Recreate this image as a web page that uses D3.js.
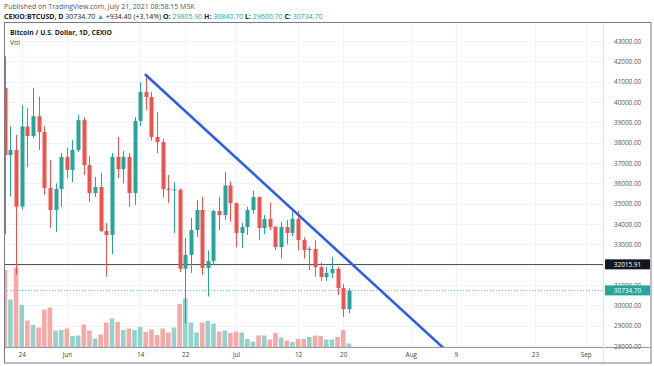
<!DOCTYPE html>
<html>
<head>
<meta charset="utf-8">
<script src="https://cdn.jsdelivr.net/npm/d3@7"></script>
<style>
  body { margin: 0; background: #fff; }
  svg { display: block; font-family: "Open Sans", "Noto Sans", sans-serif; }
</style>
</head>
<body>
<div id="chart"></div>
<script>
// Data: daily candles CEXIO:BTCUSD, May 21 – Jul 21 2021
const startDate = "2021-05-21";
const opens  = [40700,37390,37640,34850,38800,38330,39300,38520,35770,34690,35720,37300,36660,37640,39110,36900,35520,35820,33650,33460,37300,36700,37300,35520,39070,40500,40250,38280,38030,35720,35650,35680,31800,32480,33700,34690,31840,32180,34640,34440,35900,35030,33560,33850,34690,35330,33800,34250,33850,32870,33850,33560,34250,33210,32720,32770,31880,31390,31590,31790,30850,29805.9];
const highs  = [42250,38820,38380,39850,39700,40690,40260,38820,37150,36000,37490,37740,38130,39360,39250,37340,36310,36500,34050,37490,38280,37600,37490,39260,40980,41330,40500,39500,38200,36410,36060,35750,33310,34300,35180,35340,32700,34700,35340,36570,36100,35050,34050,34850,35640,35350,34440,35050,33900,34100,34200,34610,34650,33350,32880,33200,32100,31900,32390,31900,31050,30840.7];
const lows   = [33500,35350,31500,34700,36800,38230,37640,35430,33800,33600,34840,36260,36060,37540,36410,35080,35330,33600,31400,32520,36260,36000,34840,34930,38820,39610,38100,37490,35300,35030,33560,31640,29100,31600,33360,31490,30430,32000,33700,34200,34110,32850,32820,33460,34500,33210,33500,33700,32720,32300,33000,33400,32700,32300,31740,31410,31210,31200,31340,30510,29440,29600.7];
const closes = [37390,37640,34850,38800,38330,39300,38520,35770,34690,35720,37300,36660,37640,39110,36900,35520,35820,33650,33460,37300,36700,37300,35520,39070,40500,40250,38280,38030,35720,35680,35700,31800,32480,33700,34690,31840,32180,34640,34440,35900,35030,33560,33850,34690,35330,33800,34250,33850,32870,33850,33560,34250,33210,32720,32770,31880,31390,31590,31790,30850,29810,30734.7];
const volumes = [3100,1920,3200,1700,1080,900,800,1520,1600,680,700,760,460,480,920,680,360,520,1000,1160,1020,700,760,700,820,620,720,500,760,600,800,1740,1960,1000,600,1000,1060,960,640,680,580,640,600,340,240,480,480,320,580,400,280,220,340,340,420,480,460,320,320,420,700,160];

const priceTicks = [28000,29000,30000,31000,32000,33000,34000,35000,36000,37000,38000,39000,40000,41000,42000,43000];
const timeTickDates = ["2021-05-24","2021-06-01","2021-06-14","2021-06-22","2021-07-01","2021-07-12","2021-07-20","2021-08-01","2021-08-09","2021-08-23","2021-09-01"];
const timeTickLabels = ["24","Jun","14","22","Jul","12","20","Aug","9","23","Sep"];

const trendDates = ["2021-06-15","2021-08-08"];
const trendPrices = [41330,27590];

const hLinePrice = 32015.91;
const lastPrice = 30734.70;

// Layout
const W = 654, H = 366;
const pane = { left: 4, top: 22, right: 603, bottom: 347.5 };
const red = "#ef5350", green = "#26a69a";
const redVol = "#f7a9a7", greenVol = "#92d2cc";

const parse = d3.utcParse("%Y-%m-%d");
const day0 = parse(startDate);
const candles = opens.map((o, i) => ({
  date: d3.utcDay.offset(day0, i), o, h: highs[i], l: lows[i], c: closes[i], v: volumes[i]
}));

const x = d3.scaleUtc().domain([day0, parse("2021-07-21")]).range([4.8, 348.8]);
const y = d3.scaleLinear().domain([28000, 43000]).range([346, 41]);
const yVol = d3.scaleLinear().domain([0, d3.max(volumes)]).range([pane.bottom, pane.bottom - 80]);

const svg = d3.select("#chart").append("svg").attr("width", W).attr("height", H);

svg.append("defs").append("clipPath").attr("id", "paneClip")
  .append("rect").attr("x", pane.left).attr("y", pane.top)
  .attr("width", pane.right - pane.left).attr("height", pane.bottom - pane.top);

// header
svg.append("text").attr("x", 4).attr("y", 9).attr("font-size", 7).attr("fill", "#555")
  .text("Published on TradingView.com, July 21, 2021 08:58:15 MSK");
const hdr = svg.append("text").attr("x", 4).attr("y", 18.5).attr("font-size", 7).attr("fill", "#222");
hdr.append("tspan").attr("font-weight", "bold").text("CEXIO:BTCUSD, D ");
hdr.append("tspan").text("30734.70 ");
hdr.append("tspan").attr("fill", green).text("▲");
hdr.append("tspan").text(" +934.40 (+3.14%) ");
[["O:", "29805.90"], ["H:", "30840.70"], ["L:", "29600.70"], ["C:", "30734.70"]].forEach(([k, v]) => {
  hdr.append("tspan").attr("font-weight", "bold").text(k + " ");
  hdr.append("tspan").attr("fill", green).text(v + " ");
});

// grid
const grid = svg.append("g").attr("stroke", "#f0f3fa").attr("stroke-width", 1);
priceTicks.forEach(p => grid.append("line")
  .attr("x1", pane.left).attr("x2", pane.right)
  .attr("y1", Math.round(y(p)) + 0.5).attr("y2", Math.round(y(p)) + 0.5));
timeTickDates.forEach(d => grid.append("line")
  .attr("x1", Math.round(x(parse(d))) + 0.5).attr("x2", Math.round(x(parse(d))) + 0.5)
  .attr("y1", pane.top).attr("y2", pane.bottom));

const plot = svg.append("g").attr("clip-path", "url(#paneClip)");

// volume
plot.append("g").selectAll("rect").data(candles).join("rect")
  .attr("x", d => x(d.date) - 2.3).attr("width", 4.6)
  .attr("y", d => yVol(d.v)).attr("height", d => pane.bottom - yVol(d.v))
  .attr("fill", d => d.c >= d.o ? greenVol : redVol);

// horizontal level + last price line
plot.append("line").attr("x1", pane.left).attr("x2", pane.right)
  .attr("y1", Math.round(y(hLinePrice)) + 0.5).attr("y2", Math.round(y(hLinePrice)) + 0.5)
  .attr("stroke", "#555").attr("stroke-width", 1);
plot.append("line").attr("x1", pane.left).attr("x2", pane.right)
  .attr("y1", Math.round(y(lastPrice)) + 0.5).attr("y2", Math.round(y(lastPrice)) + 0.5)
  .attr("stroke", green).attr("stroke-width", 1).attr("stroke-dasharray", "1,2").attr("opacity", 0.7);

// candles
const cg = plot.append("g").selectAll("g").data(candles).join("g");
cg.append("line")
  .attr("x1", d => Math.round(x(d.date)) + 0.5).attr("x2", d => Math.round(x(d.date)) + 0.5)
  .attr("y1", d => y(d.h)).attr("y2", d => y(d.l))
  .attr("stroke", d => d.c >= d.o ? green : red).attr("stroke-width", 1);
cg.append("rect")
  .attr("x", d => Math.round(x(d.date)) + 0.5 - 2).attr("width", 4)
  .attr("y", d => y(Math.max(d.o, d.c)))
  .attr("height", d => Math.max(1, Math.abs(y(d.o) - y(d.c))))
  .attr("fill", d => d.c >= d.o ? green : red);

// trend line
plot.append("line")
  .attr("x1", x(parse(trendDates[0]))).attr("y1", y(trendPrices[0]))
  .attr("x2", x(parse(trendDates[1]))).attr("y2", y(trendPrices[1]))
  .attr("stroke", "#2f5ee8").attr("stroke-width", 2.6).attr("stroke-linecap", "round");

// pane titles
svg.append("text").attr("x", 10).attr("y", 35).attr("font-size", 6.8).attr("font-weight", "bold")
  .attr("fill", "#222").text("Bitcoin / U.S. Dollar, 1D, CEXIO");
svg.append("text").attr("x", 10).attr("y", 45).attr("font-size", 6.8).attr("fill", "#444").text("Vol");

// price axis
const yAxis = d3.axisRight(y).tickValues(priceTicks).tickFormat(d => d.toFixed(2)).tickSize(0).tickPadding(11);
const ya = svg.append("g").attr("transform", `translate(${pane.right},0)`).call(yAxis);
ya.select(".domain").remove();
ya.selectAll("text").attr("font-size", 6.4).attr("fill", "#555").attr("font-family", "Open Sans, sans-serif");

// price labels
[[hLinePrice, "#131722"], [lastPrice, green]].forEach(([p, col]) => {
  const g = svg.append("g").attr("transform", `translate(${pane.right + 2},${y(p)})`);
  g.append("rect").attr("x", 0).attr("y", -5).attr("width", 45).attr("height", 10).attr("fill", col);
  g.append("text").attr("x", 22.5).attr("y", 2.3).attr("text-anchor", "middle")
    .attr("font-size", 6.4).attr("fill", "#fff").text(p.toFixed(2));
});

// time axis
const xAxis = d3.axisBottom(x).tickValues(timeTickDates.map(parse))
  .tickFormat((d, i) => timeTickLabels[i]).tickSize(0).tickPadding(5);
const xa = svg.append("g").attr("transform", `translate(0,${pane.bottom})`).call(xAxis);
xa.select(".domain").remove();
xa.selectAll("text").attr("font-size", 6.4).attr("fill", "#444").attr("font-family", "Open Sans, sans-serif");

// borders
svg.append("line").attr("x1", pane.left).attr("x2", 651).attr("y1", 347.5).attr("y2", 347.5).attr("stroke", "#9598a1");
svg.append("line").attr("x1", pane.right + 0.5).attr("x2", pane.right + 0.5).attr("y1", pane.top).attr("y2", 363).attr("stroke", "#e0e3eb");
svg.append("rect").attr("x", 4.5).attr("y", 22.5).attr("width", 646.5).attr("height", 340.5)
  .attr("fill", "none").attr("stroke", "#787b86");
</script>
</body>
</html>
